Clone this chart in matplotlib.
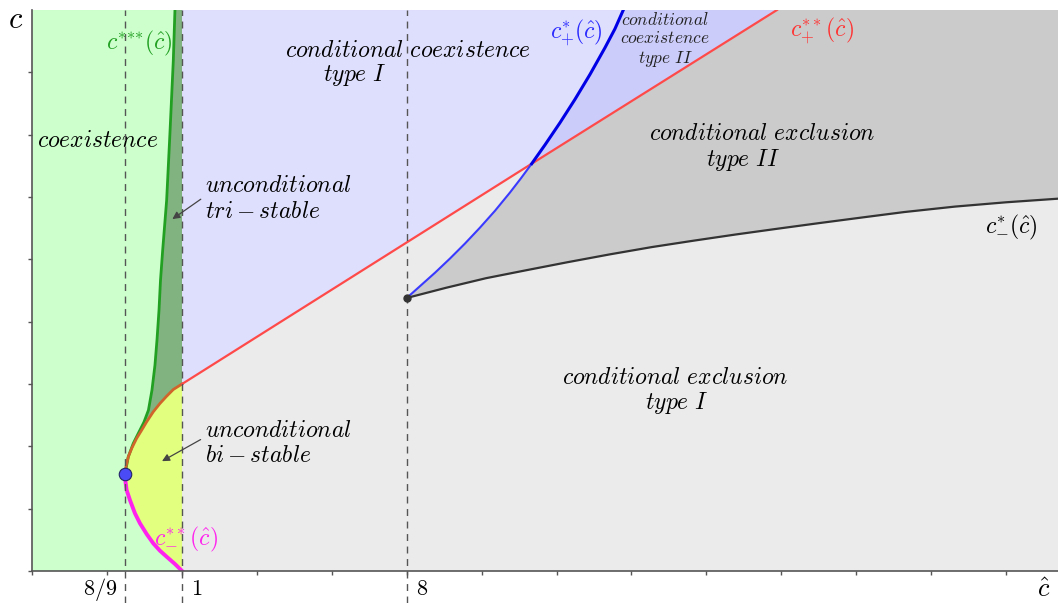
import numpy as np
import matplotlib.pyplot as plt

plt.rcParams["mathtext.fontset"] = "cm"
plt.rcParams["font.family"] = ["DejaVu Serif"]

# schematic axis: one tick per unit, 8/9 -> 1.24, 1 -> 2, 8 -> 5
x_marks = [1.24, 2.0, 5.0]
x_mark_labels = ["$8/9$", "$1$", "$8$"]

# c***(c^) : green
green_x = [1.238, 1.282, 1.348, 1.415, 1.491, 1.551, 1.598, 1.638, 1.665, 1.692, 1.712, 1.741, 1.794, 1.838, 1.883, 1.905]
green_y = [1.555, 1.832, 2.046, 2.207, 2.388, 2.580, 2.901, 3.301, 3.702, 4.183, 4.663, 5.144, 5.946, 7.019, 8.189, 9.0]

# c+**(c^) lower branch (8/9 .. 1)
orange_x = [1.238, 1.251, 1.282, 1.327, 1.393, 1.461, 1.527, 1.615, 1.705, 1.794, 1.883, 2.0]
orange_y = [1.555, 1.672, 1.832, 1.966, 2.127, 2.260, 2.393, 2.553, 2.688, 2.804, 2.912, 3.0]

# c-**(c^) : magenta
mag_x = [1.238, 1.242, 1.260, 1.304, 1.371, 1.438, 1.527, 1.615, 1.705, 1.794, 1.905, 2.0]
mag_y = [1.555, 1.458, 1.298, 1.138, 0.925, 0.764, 0.593, 0.444, 0.325, 0.229, 0.112, 0.0]

# c+**(c^) straight part, middle point = crossing with c+*
red_x = [2.0, 6.668, 9.943]
red_y = [3.0, 6.534, 9.0]

# c+*(c^) : blue, index 9 = crossing
blue_x = [5.0, 5.176, 5.377, 5.577, 5.777, 5.977, 6.178, 6.378, 6.525, 6.668,
          6.846, 7.046, 7.246, 7.446, 7.646, 7.780, 7.891]
blue_y = [4.380, 4.569, 4.785, 5.013, 5.253, 5.508, 5.779, 6.072, 6.301, 6.534,
          6.837, 7.192, 7.567, 7.966, 8.394, 8.699, 9.0]

# c-*(c^) : black
black_x = [5.0, 5.523, 6.057, 6.591, 7.152, 7.713, 8.274, 8.834, 9.395, 9.956,
           10.517, 11.077, 11.638, 12.319, 13.0, 13.695]
black_y = [4.380, 4.543, 4.697, 4.824, 4.955, 5.080, 5.197, 5.300, 5.399, 5.492,
           5.583, 5.671, 5.758, 5.846, 5.915, 5.973]

x_max, y_max = 13.695, 9.0
ix = 9  # crossing index in blue

fig = plt.figure(figsize=(10.58, 6.03), dpi=100)
ax = fig.add_axes([0.0305, 0.0531, 0.9695, 0.9303])
ax.set_facecolor("#ebebeb")

# regions
gx = [0.0] + mag_x[::-1] + green_x[1:] + [0.0]
gy = [0.0] + mag_y[::-1] + green_y[1:] + [y_max]
ax.fill(gx, gy, color="#ccffcc", lw=0, zorder=1)
ax.fill(green_x + [2.0] + orange_x[::-1], green_y + [y_max] + orange_y[::-1], color="#80b380", lw=0, zorder=1)
ax.fill(orange_x + mag_x[::-1], orange_y + mag_y[::-1], color="#e2ff7f", lw=0, zorder=1)
ax.fill(red_x[:2] + blue_x[ix:] + [2.0], red_y[:2] + blue_y[ix:] + [y_max], color="#dedefd", lw=0, zorder=1)
ax.fill(red_x[1:] + blue_x[ix:][::-1], red_y[1:] + blue_y[ix:][::-1], color="#ccccfa", lw=0, zorder=1)
ax.fill(blue_x[:ix + 1] + red_x[2:] + [x_max, x_max] + black_x[::-1],
        blue_y[:ix + 1] + red_y[2:] + [y_max, black_y[-1]] + black_y[::-1], color="#cbcbcb", lw=0, zorder=1)

# curves
ax.plot(green_x, green_y, color="#22a022", lw=2, zorder=3)
ax.plot(orange_x, orange_y, color="#d0642a", lw=2, zorder=3)
ax.plot(mag_x, mag_y, color="#ff22ee", lw=2.8, zorder=3)
ax.plot(red_x, red_y, color="#ff4a4a", lw=1.6, zorder=3)
ax.plot(blue_x[:ix + 1], blue_y[:ix + 1], color="#3a3aff", lw=1.5, zorder=3)
ax.plot(blue_x[ix:], blue_y[ix:], color="#0000e6", lw=2.2, zorder=3)
ax.plot(black_x, black_y, color="#333333", lw=1.6, zorder=3)

# dashed guides
for xm in x_marks:
    ax.plot([xm, xm], [-0.52, y_max], ls=(0, (5, 4)), color="#555555", lw=1, zorder=4, clip_on=False)

ax.plot(green_x[0], green_y[0], "o", ms=9, mfc="#4b4bf5", mec="#222266", mew=0.8, zorder=5)
ax.plot(black_x[0], black_y[0], "o", ms=5, color="#333333", zorder=5)

# axes
ax.set_xlim(0, x_max)
ax.set_ylim(0, y_max)
ax.set_xticks(np.arange(0, 14))
ax.set_yticks(np.arange(0, 9))
ax.set_xticklabels([])
ax.set_yticklabels([])
ax.tick_params(length=3, color="#555555", width=1)
for s in ["top", "right"]:
    ax.spines[s].set_visible(False)
for s in ["left", "bottom"]:
    ax.spines[s].set_color("#555555")
    ax.spines[s].set_linewidth(1.2)
    ax.spines[s].set_zorder(6)

fs = 17
ax.text(1.14, -0.29, x_mark_labels[0], fontsize=16, ha="right", va="center", clip_on=False)
ax.text(2.12, -0.29, x_mark_labels[1], fontsize=16, ha="left", va="center", clip_on=False)
ax.text(5.12, -0.29, x_mark_labels[2], fontsize=16, ha="left", va="center", clip_on=False)
ax.text(13.5, -0.30, r"$\hat{c}$", fontsize=19, ha="center", va="center", clip_on=False)
fig.text(0.015, 0.967, r"$c$", fontsize=22, ha="center", va="center")

ax.text(0.063, 6.907, r"$coexistence$", fontsize=fs, ha="left", va="center")
ax.text(0.99, 8.46, r"$c^{{*}{*}{*}}(\hat{c})$", fontsize=fs, color="#22a022", ha="left", va="center")
ax.text(3.37, 8.35, r"$conditional\ coexistence$", fontsize=fs, ha="left", va="center")
ax.text(4.31, 7.95, r"$type\ I$", fontsize=fs, ha="center", va="center")
ax.text(2.30, 6.19, r"$unconditional$", fontsize=fs, ha="left", va="center")
ax.text(2.30, 5.77, r"$tri-stable$", fontsize=fs, ha="left", va="center")
ax.text(2.30, 2.26, r"$unconditional$", fontsize=fs, ha="left", va="center")
ax.text(2.30, 1.86, r"$bi-stable$", fontsize=fs, ha="left", va="center")
ax.text(1.63, 0.50, r"$c_{-}^{**}(\hat{c})$", fontsize=fs, color="#ff22ee", ha="left", va="center")
ax.text(6.91, 8.64, r"$c_{+}^{*}(\hat{c})$", fontsize=fs, color="#2a2aff", ha="left", va="center")
ax.text(8.45, 8.83, r"$conditional$", fontsize=12.5, color="#222222", ha="center", va="center")
ax.text(8.45, 8.54, r"$coexistence$", fontsize=12.5, color="#222222", ha="center", va="center")
ax.text(8.45, 8.22, r"$type\ II$", fontsize=12.5, color="#222222", ha="center", va="center")
ax.text(10.12, 8.67, r"$c_{+}^{**}(\hat{c})$", fontsize=fs, color="#ff3333", ha="left", va="center")
ax.text(9.74, 7.02, r"$conditional\ exclusion$", fontsize=fs, ha="center", va="center")
ax.text(9.49, 6.59, r"$type\ II$", fontsize=fs, ha="center", va="center")
ax.text(12.72, 5.51, r"$c_{-}^{*}(\hat{c})$", fontsize=fs, ha="left", va="center")
ax.text(8.58, 3.11, r"$conditional\ exclusion$", fontsize=fs, ha="center", va="center")
ax.text(8.61, 2.70, r"$type\ I$", fontsize=fs, ha="center", va="center")

arrow = dict(arrowstyle="-|>", color="#444444", lw=0.9, mutation_scale=11)
ax.annotate("", xy=(1.84, 5.62), xytext=(2.28, 5.99), arrowprops=arrow, zorder=6)
ax.annotate("", xy=(1.70, 1.74), xytext=(2.28, 2.13), arrowprops=arrow, zorder=6)

fig.savefig("out.png", dpi=100)
